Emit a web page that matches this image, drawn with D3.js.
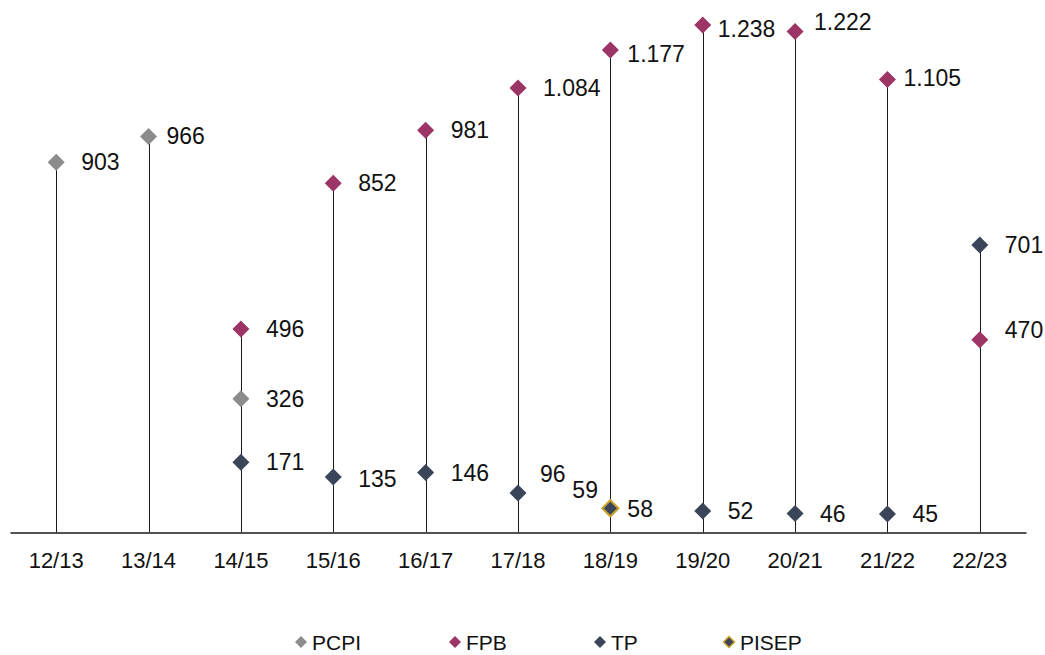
<!DOCTYPE html>
<html>
<head>
<meta charset="utf-8">
<script src="https://cdn.jsdelivr.net/npm/d3@7"></script>
<style>
  body { margin: 0; background: #fff; }
  svg text { font-family: "Liberation Sans", Arial, sans-serif; }
</style>
</head>
<body>
<svg id="chart" width="1045" height="655"></svg>
<script>
// categories (school years)
const years = ['12/13', '13/14', '14/15', '15/16', '16/17', '17/18', '18/19', '19/20', '20/21', '21/22', '22/23'];

// series values (null = not offered that year)
const pcpi  = [903, 966, 326, null, null, null, null, null, null, null, null];
const fpb   = [null, null, 496, 852, 981, 1084, 1177, 1238, 1222, 1105, 470];
const tp    = [null, null, 171, 135, 146, 96, 58, 52, 46, 45, 701];
const pisep = [null, null, null, null, null, null, 59, null, null, null, null];

const seriesNames = ['PCPI', 'FPB', 'TP', 'PISEP'];

const styles = {
    PCPI:  { fill: '#8c8c8c', stroke: 'none' },
    FPB:   { fill: '#9c3566', stroke: 'none' },
    TP:    { fill: '#3b4559', stroke: 'none' },
    PISEP: { fill: '#3b4559', stroke: '#c9a227' }
};

// label nudges (dx, dy) where the original moved labels off the default spot
const labelNudge = {
    'PCPI|13/14': [-7, 0],
    'FPB|18/19': [-8, 4],
    'TP|18/19': [-8, 0],
    'PISEP|18/19': [-63, -18],
    'FPB|19/20': [-10, 4],
    'FPB|20/21': [-6, -10],
    'FPB|21/22': [-9, -2],
    'TP|17/18': [-3, -19],
    'TP|15/16': [0, 2],
    'FPB|22/23': [0, -10]
};

const svg = d3.select('#chart');

const x = d3.scaleBand().domain(years).range([10, 1026]).padding(0);
const y = d3.scaleLinear().domain([0, 1299]).range([532.4, 0]);
const cx = d => x(d) + x.bandwidth() / 2;

const table = [];
[pcpi, fpb, tp, pisep].forEach((arr, si) => {
    arr.forEach((v, i) => {
        if (v != null) table.push({ series: seriesNames[si], year: years[i], value: v });
    });
});

// drop lines from the axis up to the highest value in each year
const tops = years.map(yr => ({
    year: yr,
    max: d3.max(table.filter(d => d.year === yr), d => d.value)
})).filter(d => d.max != null);

svg.append('g')
    .selectAll('line')
    .data(tops)
    .join('line')
    .attr('x1', d => Math.round(cx(d.year)) + 0.5)
    .attr('x2', d => Math.round(cx(d.year)) + 0.5)
    .attr('y1', y(0))
    .attr('y2', d => y(d.max))
    .attr('stroke', '#1a1a1a')
    .attr('stroke-width', 1);

// x axis
const xAxis = d3.axisBottom(x).tickSize(0).tickSizeOuter(0).tickPadding(20);
const axisG = svg.append('g')
    .attr('transform', `translate(0,${Math.round(y(0)) + 0.5})`)
    .call(xAxis);
axisG.select('.domain').attr('stroke', '#1a1a1a').attr('stroke-width', 1.3);
axisG.selectAll('text').attr('font-size', '22px').attr('fill', '#111');

// diamond markers
const diamond = r => `M0,${-r}L${r},0L0,${r}L${-r},0Z`;

const order = ['TP', 'PCPI', 'FPB', 'PISEP'];
const drawn = table.slice().sort((a, b) => order.indexOf(a.series) - order.indexOf(b.series));

svg.append('g')
    .selectAll('path')
    .data(drawn)
    .join('path')
    .attr('transform', d => `translate(${cx(d.year)},${y(d.value)})`)
    .attr('d', d => d.series === 'PISEP' ? diamond(8) : diamond(8.5))
    .attr('fill', d => styles[d.series].fill)
    .attr('stroke', d => styles[d.series].stroke)
    .attr('stroke-width', 2);

// value labels (Portuguese thousands separator)
const fmt = v => v >= 1000 ? d3.format(',')(v).replace(',', '.') : String(v);
const nudge = d => labelNudge[d.series + '|' + d.year] || [0, 0];

svg.append('g')
    .selectAll('text')
    .data(table)
    .join('text')
    .attr('x', d => cx(d.year) + 25 + nudge(d)[0])
    .attr('y', d => y(d.value) + 8 + nudge(d)[1])
    .attr('font-size', '23px')
    .attr('fill', '#111')
    .text(d => fmt(d.value));

// legend
const legendX = [301, 455, 600, 729];
const legend = svg.append('g').attr('transform', 'translate(0,642)');
const items = legend.selectAll('g')
    .data(seriesNames)
    .join('g')
    .attr('transform', (d, i) => `translate(${legendX[i]},0)`);
items.append('path')
    .attr('d', d => d === 'PISEP' ? diamond(5.5) : diamond(6))
    .attr('fill', d => styles[d].fill)
    .attr('stroke', d => styles[d].stroke)
    .attr('stroke-width', 1.5);
items.append('text')
    .attr('x', 11)
    .attr('y', 7.5)
    .attr('font-size', '21px')
    .attr('fill', '#111')
    .text(d => d);
</script>
</body>
</html>
